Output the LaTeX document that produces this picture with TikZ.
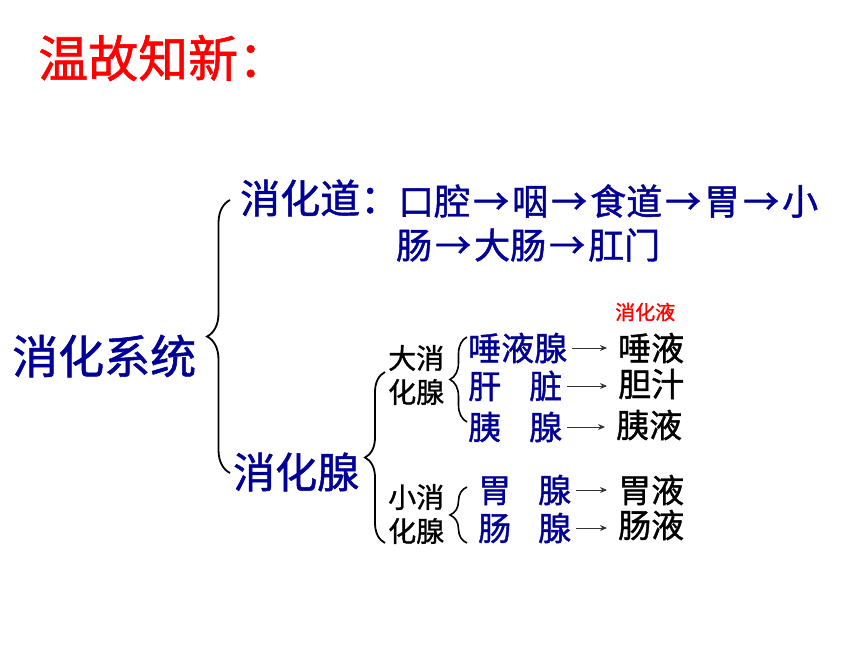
\documentclass[tikz,border=0pt]{standalone}
\usepackage{fontspec}
\setmainfont{Noto Sans CJK SC}[FakeBold=1.2]
\usetikzlibrary{decorations.pathreplacing,arrows.meta}
\definecolor{navy}{RGB}{0,0,150}
\newcommand{\tto}{\kern3pt→\kern3pt}
\begin{document}
\begin{tikzpicture}[x=1pt,y=1pt]
\tikzstyle{every node}+=[inner sep=0pt,anchor=west]
\tikzstyle{blue}=[text=navy]
\tikzstyle{curly}=[black,line width=1.8pt,decorate,decoration={brace}]
\tikzstyle{arr}=[black!80,line width=0.9pt,-{Stealth[length=7pt,width=6pt]},shorten <=5pt,shorten >=11pt]
\useasboundingbox (0,0) rectangle (860,-645);
\draw (38,-58) node[text=red,font=\fontsize{50}{50}\selectfont] (title) {温故知新：};
\draw (12,-356) node[blue,font=\fontsize{46}{46}\selectfont] (sys) {消化系统};
\draw (240,-198) node[blue,font=\fontsize{40}{40}\selectfont] (tract) {消化道：};
\draw (398,-201) node[blue,font=\fontsize{36}{36}\selectfont] (way1) {口腔\tto 咽\tto 食道\tto 胃\tto 小};
\draw (396,-245) node[blue,font=\fontsize{36}{36}\selectfont] (way2) {肠\tto 大肠\tto 肛门};
\draw (233,-472) node[blue,font=\fontsize{42}{42}\selectfont] (gland) {消化腺};
\draw [curly,decoration={amplitude=23pt}] (230,-473) -- (230,-200);
\draw [curly,decoration={amplitude=20pt}] (385,-543) -- (385,-372);
\draw (388,-375) node[font=\fontsize{28}{34}\selectfont,align=left] (big) {大消\\化腺};
\draw (388,-514) node[font=\fontsize{28}{34}\selectfont,align=left] (small) {小消\\化腺};
\draw [curly,line width=1.6pt,decoration={amplitude=17pt}] (467,-422) -- (467,-337);
\draw [curly,line width=1.6pt,decoration={amplitude=17pt}] (467,-543) -- (467,-487);
\draw (615,-312) node[text=red,font=\fontsize{20}{20}\selectfont] (juice) {消化液};
\draw (468,-348) node[blue,font=\fontsize{33}{33}\selectfont] (g1) {唾液腺};
\draw (468,-386) node[blue,font=\fontsize{33}{33}\selectfont] (g2) {肝\hspace{28pt}脏};
\draw (468,-427) node[blue,font=\fontsize{33}{33}\selectfont] (g3) {胰\hspace{28pt}腺};
\draw (478,-490) node[blue,font=\fontsize{33}{33}\selectfont] (g4) {胃\hspace{27pt}腺};
\draw (478,-528) node[blue,font=\fontsize{33}{33}\selectfont] (g5) {肠\hspace{27pt}腺};
\draw (618,-348) node[font=\fontsize{33}{33}\selectfont] (j1) {唾液};
\draw (618,-384) node[font=\fontsize{33}{33}\selectfont] (j2) {胆汁};
\draw (616,-425) node[font=\fontsize{33}{33}\selectfont] (j3) {胰液};
\draw (618,-490) node[font=\fontsize{33}{33}\selectfont] (j4) {胃液};
\draw (618,-525) node[font=\fontsize{33}{33}\selectfont] (j5) {肠液};
\draw [arr] (g1.east) -- (g1.east -| j1.west);
\draw [arr] (g2.east) -- (g2.east -| j2.west);
\draw [arr] (g3.east) -- (g3.east -| j3.west);
\draw [arr] (g4.east) -- (g4.east -| j4.west);
\draw [arr] (g5.east) -- (g5.east -| j5.west);
\end{tikzpicture}
\end{document}
